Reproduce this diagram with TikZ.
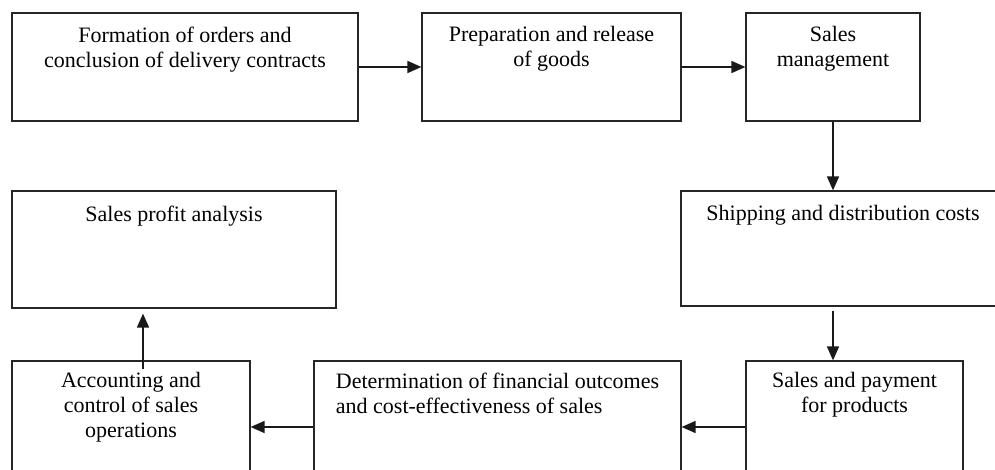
\documentclass[tikz,border=0pt]{standalone}
\usepackage{fontspec}
\setmainfont{Liberation Serif}
\usepackage{xcolor}
\usetikzlibrary{arrows.meta,positioning,calc}
\tikzset{
  stage/.style={draw=black!85, line width=1.2pt, fill=white, inner sep=0pt},
  stagetext/.style={anchor=north, align=center, inner sep=0pt, font=\fontsize{22}{25}\selectfont},
  flow/.style={-{Triangle[length=14pt,width=12pt]}, line width=1.6pt, black!90},
}

\begin{document}
\begin{tikzpicture}[x=1pt,y=-1pt]
  \useasboundingbox (0,0) rectangle (995,470);
  % Boxes (top row)
  \node[stage, minimum width=346, minimum height=108] (orders) at (185,67) {};
  \node[stage, minimum width=259, minimum height=108] (release) at (551.5,67) {};
  \node[stage, minimum width=174, minimum height=108] (mgmt) at (833,67) {};
  % Boxes (middle row)
  \node[stage, minimum width=324, minimum height=117] (profit) at (174,249.5) {};
  \node[stage, minimum width=324, minimum height=115] (shipping) at (843,248.5) {};
  % Boxes (bottom row, cut off by the page edge)
  \node[stage, minimum width=238, minimum height=132] (acct) at (131,427) {};
  \node[stage, minimum width=367, minimum height=132] (outcome) at (497.5,427) {};
  \node[stage, minimum width=217, minimum height=132] (payment) at (854.5,427) {};
  % Texts
  \node[stagetext] (t-orders) at ([yshift=-14]orders.north) {Formation of orders and\\conclusion of delivery contracts};
  \node[stagetext] (t-release) at ([yshift=-14]release.north) {Preparation and release\\of goods};
  \node[stagetext] (t-mgmt) at ([yshift=-14]mgmt.north) {Sales\\management};
  \node[stagetext] (t-profit) at ([yshift=-15]profit.north) {Sales profit analysis};
  \node[stagetext] (t-shipping) at ([yshift=-15]shipping.north) {Shipping and distribution costs};
  \node[stagetext] (t-acct) at ([yshift=-12]acct.north) {Accounting and\\control of sales\\operations};
  \node[stagetext, align=left] (t-outcome) at ([yshift=-12]outcome.north) {Determination of financial outcomes\\ and cost-effectiveness of sales};
  \node[stagetext] (t-payment) at ([yshift=-12]payment.north) {Sales and payment\\for products};
  % Arrows
  \draw[flow] (orders.east) -- (release.west);
  \draw[flow] (release.east) -- (mgmt.west);
  \draw[flow] (mgmt.south) -- (mgmt.south |- shipping.north);
  \draw[flow, shorten <=4pt] (mgmt.south |- shipping.south) -- (mgmt.south |- payment.north);
  \draw[flow] (payment.west) -- (outcome.east);
  \draw[flow] (outcome.west) -- (acct.east);
  \coordinate (acct-out) at ([xshift=12,yshift=-9]acct.north);
  \draw[flow, shorten >=5pt] (acct-out) -- (acct-out |- profit.south);
\end{tikzpicture}
\end{document}
